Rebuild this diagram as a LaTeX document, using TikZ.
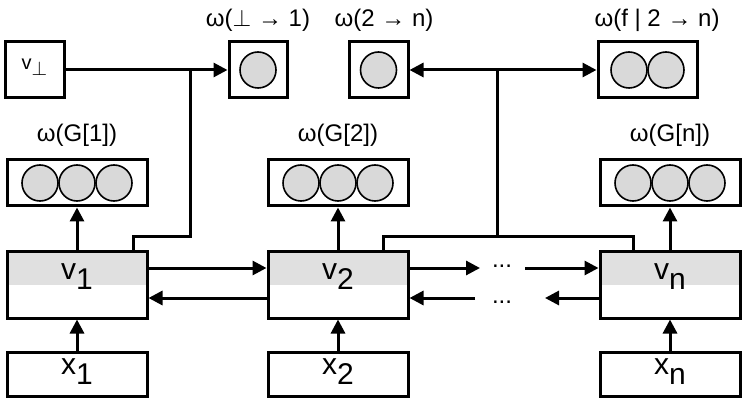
\documentclass[tikz,border=0pt]{standalone}
\usepackage{fontspec}
\setmainfont{Liberation Sans}
\usetikzlibrary{positioning,arrows.meta}
\tikzset{
	box/.style={draw=black, line width=1.5pt, inner sep=0pt},
	vbox/.style={box, minimum width=70pt, minimum height=33.5pt},
	xbox/.style={box, minimum width=70pt, minimum height=22pt},
	ball/.style={circle, draw=black, line width=0.8pt, fill=black!15, minimum size=18pt, inner sep=0pt},
	link/.style={line width=1.5pt, -{Triangle[length=7pt,width=7pt]}},
	wire/.style={line width=1.5pt},
	lbl/.style={font=\fontsize{12}{14}\selectfont},
	big/.style={font=\fontsize{15}{17}\selectfont}
}
\begin{document}
\begin{tikzpicture}[x=0.5pt,y=-0.5pt]
	\useasboundingbox (0,0) rectangle (747,405);
		% top row
		\node[box, minimum width=29.5pt, minimum height=28pt] (vp) at (34.5,70) {};
		\node[font=\fontsize{10}{12}\selectfont] at (34.5,67) {v\raisebox{-3pt}{$\perp$}};
		\node[box, minimum width=29pt, minimum height=28pt] (w1) at (258,70) {};
		\node[ball] at (w1) {};
		\node[lbl] at (258,20) {ω($\perp$ → 1)};
		\node[box, minimum width=29.5pt, minimum height=28pt] (w2) at (378.5,70) {};
		\node[ball] at (w2) {};
		\node[lbl] at (384,20) {ω(2 → n)};
		\node[box, minimum width=49.5pt, minimum height=28pt] (wf) at (647.5,70) {};
		\node[ball] at (629,70) {}; \node[ball] at (666,70) {};
		\node[lbl] at (657,20) {ω(f | 2 → n)};

		% middle, bottom
		\foreach \n/\cx/\t in {1/77/1, 2/338/2, n/670/n}{
			\node[box, minimum width=70pt, minimum height=23pt] (g\n) at (\cx,183) {};
			\node[ball] at (\cx-37,183) {}; \node[ball] at (\cx,183) {}; \node[ball] at (\cx+37,183) {};
			\node[lbl] at (\cx,135) {ω(G[\t])};
			\fill[black!12] (\cx-70,251) rectangle (\cx+70,285);
			\node[vbox] (v\n) at (\cx,284.5) {};
			\node[big] at (\cx,277) {v\raisebox{-5pt}{\t}};
			\node[xbox] (x\n) at (\cx,374) {};
			\node[big] at (\cx,372) {x\raisebox{-5pt}{\t}};
			\draw[link] (x\n) -- (v\n);
			\draw[link] (v\n) -- (g\n);
		}

		\coordinate (d1) at (480,268); \coordinate (d2) at (525,268);
		\coordinate (d3) at (545,298); \coordinate (d4) at (475,298);
		\node[lbl] at (502,266) {...};
		\node[lbl] at (502,302) {...};

		\draw[link] (v1.east|-0,268) -- (v2.west|-0,268);
		\draw[link] (v2.west|-0,298) -- (v1.east|-0,298);
		\draw[link] (v2.east|-0,268) -- (d1);
		\draw[link] (d2) -- (vn.west|-0,268);
		\draw[link] (vn.west|-0,298) -- (d3);
		\draw[link] (d4) -- (v2.east|-0,298);

		\draw[link] (vp) -- (w1);
		\draw[wire] (133,251) |- (190,237) -- (190,70);
		\draw[wire] (383,251) |- (633,237) -- (633,251);
		\draw[link] (497,237) |- (w2);
		\draw[link] (497,70) -- (wf);
\end{tikzpicture}
\end{document}
